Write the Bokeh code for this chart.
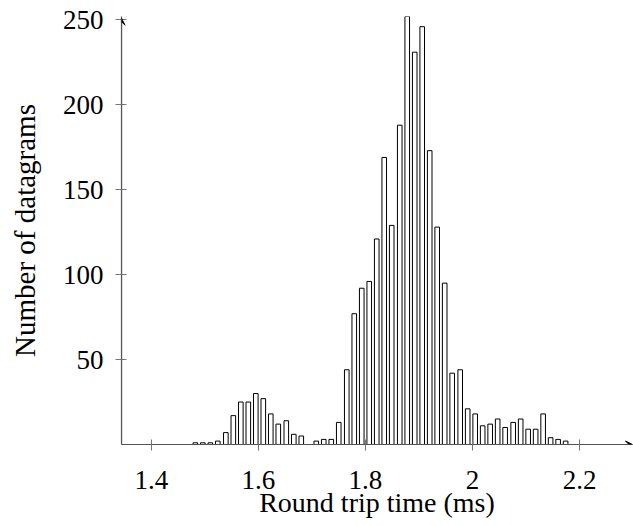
from bokeh.plotting import figure
from bokeh.models import FixedTicker, Range1d, Arrow, VeeHead
from bokeh.embed import file_html
from bokeh.resources import INLINE

# Histogram of round trip times (bin centers, ms) and counts
bin_centers = [1.482, 1.496, 1.510, 1.524, 1.539, 1.553, 1.567, 1.581, 1.595, 1.609,
               1.623, 1.637, 1.652, 1.666, 1.680, 1.694, 1.708, 1.722, 1.736, 1.750,
               1.765, 1.779, 1.793, 1.807, 1.821, 1.835, 1.849, 1.864, 1.878, 1.892,
               1.906, 1.920, 1.934, 1.948, 1.962, 1.977, 1.991, 2.005, 2.019, 2.033,
               2.047, 2.061, 2.076, 2.090, 2.104, 2.118, 2.132, 2.146, 2.160, 2.174]
counts = [1, 1, 1, 2, 7, 17, 25, 25, 30, 27,
          18, 12, 14, 6, 5, 0, 2, 3, 3, 13,
          44, 77, 92, 96, 121, 169, 129, 188, 253, 231,
          246, 173, 128, 95, 42, 44, 21, 18, 11, 12,
          15, 10, 13, 15, 9, 9, 18, 4, 3, 2]

x_ticks = [1.4, 1.6, 1.8, 2.0, 2.2]
x_tick_labels = ["1.4", "1.6", "1.8", "2", "2.2"]
y_ticks = [50, 100, 150, 200, 250]

x_start, x_end = 1.344, 2.299
y_start, y_end = 0, 252

FONT = "Liberation Serif"

p = figure(width=633, height=526, output_backend="svg", toolbar_location=None,
           x_range=Range1d(x_start, x_end), y_range=Range1d(y_start, y_end),
           min_border_left=121, min_border_right=1, min_border_top=16, min_border_bottom=82)
p.outline_line_color = None
p.grid.visible = False
p.background_fill_color = "white"

p.vbar(x=bin_centers, top=counts, bottom=0, width=0.0086,
       fill_color="white", line_color="black", line_width=1)

for ax in (p.xaxis[0], p.yaxis[0]):
    ax.axis_line_color = "#555555"
    ax.axis_line_width = 1.2
    ax.major_tick_line_color = "#777777"
    ax.minor_tick_line_color = None
    ax.major_tick_in = 5
    ax.major_tick_out = 6
    ax.major_label_text_font = FONT
    ax.major_label_text_font_size = "27px"
    ax.major_label_text_color = "black"
    ax.axis_label_text_font = FONT
    ax.axis_label_text_font_style = "normal"
    ax.axis_label_text_color = "black"

p.xaxis.ticker = FixedTicker(ticks=x_ticks)
p.xaxis.major_label_overrides = {t: l for t, l in zip(x_ticks, x_tick_labels)}
p.xaxis.axis_label = "Round trip time (ms)"
p.xaxis.axis_label_text_font_size = "28px"
p.xaxis.major_label_standoff = 20
p.xaxis.axis_label_standoff = -5

p.yaxis.ticker = FixedTicker(ticks=y_ticks)
p.yaxis.axis_label = "Number of datagrams"
p.yaxis.axis_label_text_font_size = "29px"
p.yaxis.major_label_standoff = 12
p.yaxis.axis_label_standoff = 19

p.add_layout(Arrow(end=VeeHead(size=7, fill_color="black", line_color="black", line_width=1),
                   x_start=x_start, y_start=0, x_end=x_start, y_end=251,
                   line_color="#555555", line_width=1.2))
p.add_layout(Arrow(end=VeeHead(size=7, fill_color="black", line_color="black", line_width=1),
                   x_start=x_start, y_start=0, x_end=x_end, y_end=0,
                   line_color="#555555", line_width=1.2))

open("out.html", "w").write(file_html(p, INLINE))
